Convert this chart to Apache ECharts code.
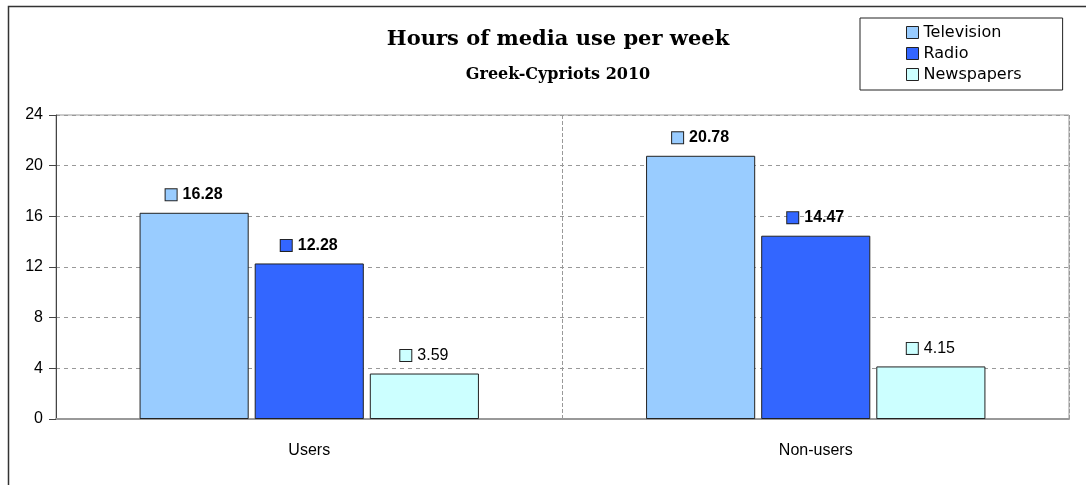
<!DOCTYPE html>
<html>
<head>
<meta charset="utf-8">
<script src="https://cdn.jsdelivr.net/npm/echarts@6/dist/echarts.min.js"></script>
<style>
html,body{margin:0;padding:0;background:#fff;}
#c{width:1086px;height:485px;}
</style>
</head>
<body>
<div id="c"></div>
<script>
const categories = ['Users', 'Non-users'];
const seriesNames = ['Television', 'Radio', 'Newspapers'];
const television = [16.28, 20.78];
const radio = [12.28, 14.47];
const newspapers = [3.59, 4.15];
const yTicks = [0, 4, 8, 12, 16, 20, 24];

const colors = ['#99CCFF', '#3366FF', '#CCFFFF'];
const boldLabel = [true, true, false];
const values = [television, radio, newspapers];

const chart = echarts.init(document.getElementById('c'), null, {renderer: 'canvas'});

const series = seriesNames.map((name, i) => ({
  name: name,
  type: 'bar',
  data: values[i],
  barGap: '5.5%',
  barCategoryGap: '33%',
  itemStyle: {color: colors[i], borderColor: '#222', borderWidth: 1},
  label: {
    show: true,
    position: 'top',
    distance: 10,
    formatter: p => '{k|}{v|' + p.value.toFixed(2) + '}',
    rich: {
      k: {width: 11, height: 11, backgroundColor: colors[i], borderColor: '#222', borderWidth: 1},
      v: {fontFamily: 'Liberation Sans', fontSize: 16, fontWeight: boldLabel[i] ? 'bold' : 'normal', color: '#000', padding: [0, 0, 0, 6]}
    }
  }
}));

chart.setOption({
  animation: false,
  backgroundColor: '#fff',
  title: [
    {text: 'Hours of media use per week', left: 553, top: 24, textAlign: 'center',
     textStyle: {fontFamily: 'DejaVu Serif', fontWeight: 'bold', fontSize: 21, color: '#000'}},
    {text: 'Greek-Cypriots 2010', left: 553, top: 62, textAlign: 'center',
     textStyle: {fontFamily: 'DejaVu Serif', fontWeight: 'bold', fontSize: 16, color: '#000'}}
  ],
  legend: {
    orient: 'vertical',
    left: 860,
    top: 18,
    padding: [6, 41, 7, 46],
    borderColor: '#222',
    borderWidth: 1,
    itemWidth: 12,
    itemHeight: 12,
    itemGap: 4,
    icon: 'rect',
    itemStyle: {borderColor: '#222', borderWidth: 1},
    textStyle: {fontFamily: 'DejaVu Sans', fontSize: 16, color: '#000', lineHeight: 17, padding: [0, 0, 0, 0]},
    data: seriesNames
  },
  graphic: [
    {type: 'rect', silent: true, shape: {x: 8.5, y: 6.5, width: 1100, height: 520},
     style: {fill: 'none', stroke: '#333', lineWidth: 1.5}}
  ],
  grid: {left: 56, right: 17, top: 115, bottom: 66, show: true, borderColor: '#999', borderWidth: 1, backgroundColor: 'transparent'},
  xAxis: {
    type: 'category',
    data: categories,
    axisLine: {lineStyle: {color: '#999', width: 2}},
    axisTick: {show: false},
    axisLabel: {fontFamily: 'Liberation Sans', fontSize: 16, color: '#000', margin: 24},
    splitLine: {show: true, lineStyle: {color: '#999', type: 'dashed'}}
  },
  yAxis: {
    type: 'value',
    min: yTicks[0],
    max: yTicks[yTicks.length - 1],
    interval: yTicks[1] - yTicks[0],
    axisLine: {show: true, lineStyle: {color: '#444', width: 1}},
    axisTick: {show: true, length: 7, lineStyle: {color: '#444'}},
    axisLabel: {fontFamily: 'Liberation Sans', fontSize: 16, color: '#000', margin: 13},
    splitLine: {show: true, lineStyle: {color: '#999', type: [4, 4]}}
  },
  series: series
});
</script>
</body>
</html>
